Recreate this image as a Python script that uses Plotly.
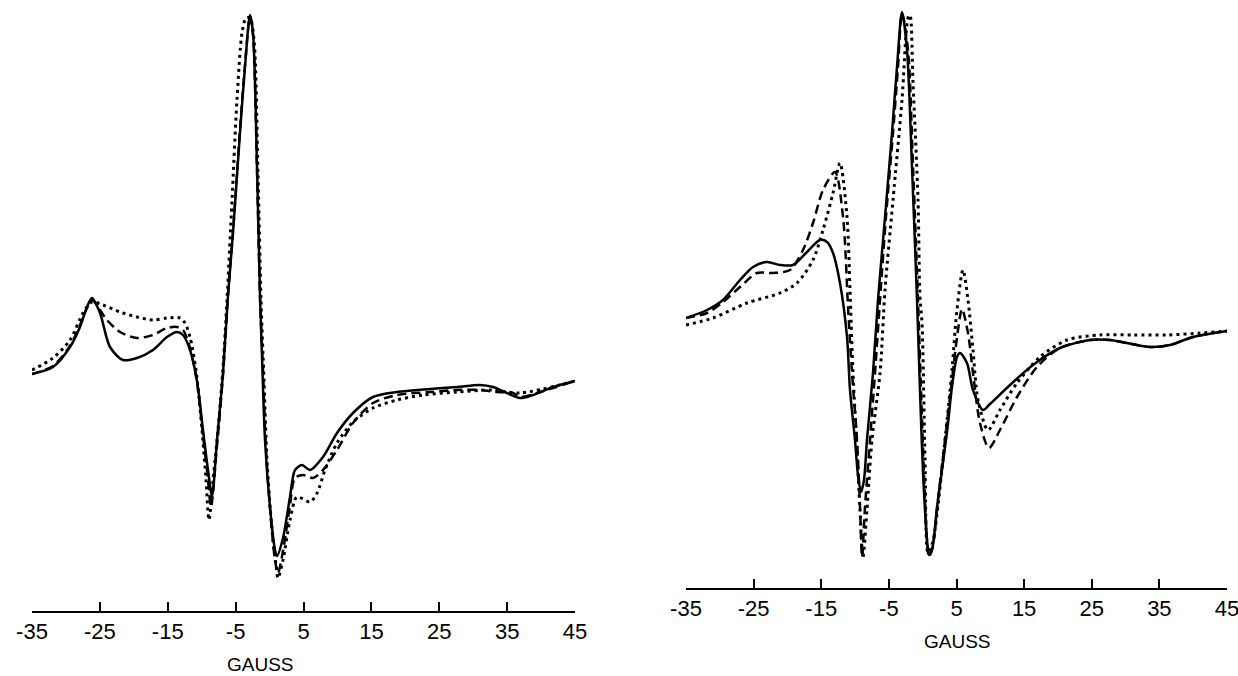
import plotly.graph_objects as go

# ---------------- Left panel data (gauss, amplitude arbitrary units) ----------------
L_solid_x = [-35.0, -31.91, -29.40, -27.93, -26.90, -26.16, -24.98, -23.51, -21.59, -19.53, -17.17, -15.11,
             -13.64, -12.75, -11.72, -10.69, -9.81, -9.07, -8.48, -7.74, -6.86, -6.12, -5.39, -4.36, -3.62,
             -2.88, -2.44, -1.85, -1.41, -1.11, -0.67, 0.06, 0.80, 1.10, 1.98, 3.01, 3.75, 4.78, 5.96, 7.87,
             9.94, 12.29, 15.24, 18.78, 23.64, 27.61, 31.00, 32.92, 34.98, 36.90, 38.81, 41.76, 45.0]
L_solid_y = [6, 13, 33, 53, 73, 82, 67, 33, 20, 22, 30, 43,
             48, 45, 30, -1, -50, -90, -116, -60, 7, 85, 147, 247, 313,
             365, 347, 213, 85, 23, -60, -127, -170, -176, -158, -117, -90, -85, -90, -77,
             -53, -33, -17, -12, -9, -7, -5, -7, -13, -18, -15, -7, -1]

L_dash_x = [-35.0, -31.91, -29.40, -27.93, -26.90, -26.16, -24.98, -23.95, -22.03, -19.53, -17.17, -15.11,
            -13.64, -12.75, -11.72, -10.69, -9.81, -9.07, -8.63, -7.74, -6.86, -6.12, -5.39, -4.36, -3.62,
            -2.88, -2.44, -1.85, -1.41, -0.97, -0.52, 0.21, 0.80, 1.24, 2.13, 3.01, 3.75, 4.93, 6.40, 7.87,
            9.94, 12.29, 15.24, 18.78, 23.64, 27.61, 31.00, 33.51, 35.87, 36.90, 39.84, 45.0]
L_dash_y = [6, 14, 34, 55, 72, 80, 70, 60, 48, 42, 45, 52,
            53, 50, 32, -2, -55, -100, -127, -65, 5, 85, 148, 250, 315,
            364, 345, 210, 83, 10, -70, -140, -180, -193, -165, -125, -98, -95, -98, -90,
            -70, -43, -23, -15, -12, -10, -10, -12, -13, -17, -12, -1]

L_dot_x = [-35.0, -31.91, -29.40, -27.49, -26.16, -24.54, -22.03, -19.53, -17.17, -15.11, -13.20, -12.46,
           -11.72, -10.84, -9.95, -9.36, -8.92, -8.33, -7.60, -6.86, -6.27, -5.53, -4.80, -4.06, -3.47,
           -2.88, -2.29, -1.70, -1.26, -0.82, -0.38, 0.36, 0.95, 1.24, 1.98, 3.01, 4.04, 5.96, 7.00, 8.17,
           9.94, 12.29, 15.24, 18.78, 22.61, 27.61, 32.92, 36.90, 45.0]
L_dot_y = [10, 22, 40, 67, 78, 75, 68, 63, 60, 62, 62, 57,
           43, 10, -50, -100, -140, -100, -50, 12, 80, 180, 280, 347, 362,
           362, 340, 205, 80, 0, -80, -150, -185, -198, -180, -140, -117, -122, -113, -90,
           -63, -42, -28, -20, -15, -12, -10, -13, -1]

# ---------------- Right panel data ----------------
R_solid_x = [-35.0, -31.89, -29.53, -27.01, -25.09, -23.02, -21.10, -19.18, -17.25, -15.18, -14.15, -13.26,
             -12.23, -11.19, -10.75, -10.01, -9.57, -9.12, -8.68, -8.24, -7.35, -6.61, -5.57, -4.54, -3.80,
             -3.06, -2.32, -1.58, -0.84, -0.40, 0.05, 0.64, 0.93, 1.38, 2.12, 3.60, 4.33, 5.07, 5.52, 6.55,
             7.44, 8.92, 9.95, 12.91, 16.31, 20.30, 24.74, 27.70, 30.21, 33.61, 36.57, 39.97, 45.0]
R_solid_y = [14, 22, 32, 52, 65, 70, 67, 67, 79, 92, 90, 79,
             49, -5, -58, -108, -143, -160, -148, -108, -41, 32, 115, 199, 265,
             320, 282, 165, 32, -58, -141, -208, -223, -218, -175, -100, -55, -25, -21, -31,
             -58, -78, -72, -53, -33, -16, -8, -8, -11, -15, -13, -5, 1]

R_dash_x = [-35.0, -31.89, -29.53, -27.01, -24.50, -22.13, -19.62, -17.70, -16.22, -14.74, -12.97, -11.78,
            -11.04, -10.45, -9.71, -9.27, -8.97, -8.53, -7.79, -7.05, -6.31, -5.43, -4.39, -3.65, -3.06,
            -2.17, -1.43, -0.69, -0.25, 0.19, 0.64, 0.93, 1.52, 2.26, 3.30, 4.33, 5.22, 5.81, 6.70, 7.44,
            8.47, 9.80, 11.43, 13.95, 16.90, 20.30, 24.74, 27.70, 30.21, 33.61, 36.57, 39.97, 45.0]
R_dash_y = [14, 19, 30, 45, 59, 59, 62, 82, 109, 142, 160, 115,
            25, -41, -108, -175, -225, -175, -108, -41, 32, 115, 199, 265, 319,
            282, 165, 32, -58, -141, -208, -225, -213, -168, -108, -48, 2, 23, -1, -41,
            -91, -116, -98, -65, -35, -16, -8, -8, -11, -15, -13, -5, 1]

R_dot_x = [-35.0, -31.01, -25.98, -21.10, -18.59, -16.22, -14.74, -13.26, -12.23, -11.19, -10.75, -10.30,
           -9.71, -9.27, -8.83, -8.24, -7.50, -6.31, -5.57, -4.39, -3.06, -2.17, -1.88, -1.43, -0.69,
           -0.40, -0.10, 0.34, 0.79, 1.38, 1.82, 3.30, 4.33, 5.07, 5.96, 6.70, 7.44, 8.18, 9.66, 11.43,
           13.95, 17.35, 21.34, 26.22, 31.10, 36.13, 41.01, 45.0]
R_dot_y = [7, 14, 29, 39, 49, 72, 102, 139, 169, 115, 42, -41,
           -118, -178, -225, -178, -108, -41, 42, 132, 232, 314, 317, 249, 132,
           35, 9, -125, -221, -213, -198, -108, -38, 22, 62, 32, -18, -68, -98, -78,
           -51, -25, -8, -3, -3, -3, -1, 1]

tick_vals = [-35, -25, -15, -5, 5, 15, 25, 35, 45]
tick_text = ["-35", "-25", "-15", "-5", "5", "15", "25", "35", "45"]
axis_title = "GAUSS"

fig = go.Figure()

SPL = 0.8
def add(x, y, xa, ya, dash, width):
    fig.add_trace(go.Scatter(x=x, y=y, xaxis=xa, yaxis=ya, mode="lines",
                             line=dict(color="black", width=width, dash=dash, shape="spline", smoothing=SPL),
                             showlegend=False, hoverinfo="skip"))

add(L_dot_x, L_dot_y, "x", "y", "3px,4px", 3)
add(L_dash_x, L_dash_y, "x", "y", "9px,5px", 2.5)
add(L_solid_x, L_solid_y, "x", "y", "solid", 2.5)
add(R_dot_x, R_dot_y, "x2", "y2", "3px,4px", 3)
add(R_dash_x, R_dash_y, "x2", "y2", "9px,5px", 2.5)
add(R_solid_x, R_solid_y, "x2", "y2", "solid", 2.5)

W, H = 1238, 676
FONT = "Liberation Sans, Arial, sans-serif"
xcommon = dict(range=[-35, 45], tickmode="array", tickvals=tick_vals, ticktext=tick_text,
               ticks="inside", ticklen=9, tickwidth=1.5, tickcolor="black", automargin=False,
               ticklabeloverflow="allow",
               showline=True, linecolor="black", linewidth=1.5, showgrid=False, zeroline=False,
               tickfont=dict(family=FONT, size=22, color="black"))
ycommon = dict(visible=False, showgrid=False, zeroline=False, automargin=False)

fig.update_layout(
    width=W, height=H, margin=dict(l=0, r=0, t=0, b=0, autoexpand=False),
    paper_bgcolor="white", plot_bgcolor="white",
    xaxis=dict(domain=[32 / W, 575 / W], anchor="y", **xcommon),
    yaxis=dict(domain=[1 - 611 / H, 1.0], range=[380 - 611, 380], anchor="x", **ycommon),
    xaxis2=dict(domain=[686 / W, 1227 / W], anchor="y2", **xcommon),
    yaxis2=dict(domain=[1 - 588 / H, 1.0], range=[332 - 588, 332], anchor="x2", **ycommon),
    annotations=[
        dict(text=axis_title, x=260 / W, y=1 - 664 / H, xref="paper", yref="paper", showarrow=False,
             xanchor="center", yanchor="middle", borderpad=0,
             font=dict(family=FONT, size=19, color="black")),
        dict(text=axis_title, x=957 / W, y=1 - 641 / H, xref="paper", yref="paper", showarrow=False,
             xanchor="center", yanchor="middle", borderpad=0,
             font=dict(family=FONT, size=19, color="black")),
    ],
)

fig.write_html("out.html")
